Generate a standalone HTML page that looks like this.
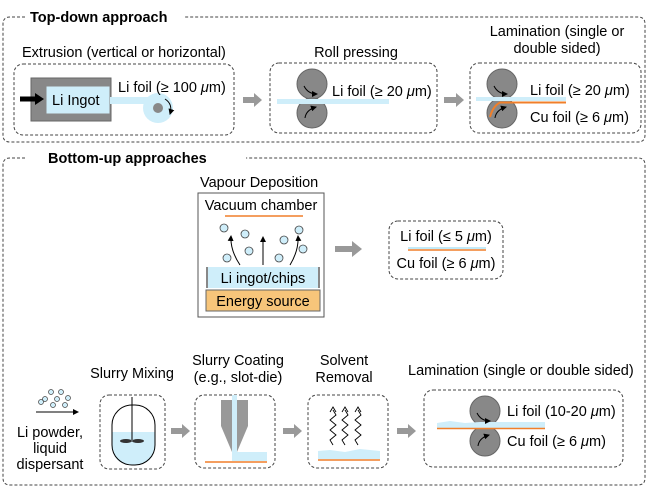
<!DOCTYPE html>
<html><head><meta charset="utf-8"><style>
html,body{margin:0;padding:0;background:#fff;}
svg{display:block;font-family:"Liberation Sans",Arial,sans-serif;}
</style></head><body>
<svg width="652" height="494" viewBox="0 0 652 494" xmlns="http://www.w3.org/2000/svg">
<defs>
<marker id="ah" markerWidth="6" markerHeight="6" refX="5" refY="3" orient="auto" markerUnits="userSpaceOnUse"><path d="M0,0 L6,3 L0,6 z" fill="#000"/></marker>
</defs>
<g fill="none" stroke="#444" stroke-width="1" stroke-dasharray="3,2">
<path d="M25,17 H10 Q3,17 3,24 V135 Q3,142 10,142 H638 Q645,142 645,135 V24 Q645,17 638,17 H185"/>
<path d="M25,158 H10 Q3,158 3,165 V478 Q3,485 10,485 H638 Q645,485 645,478 V165 Q645,158 638,158 H246"/>
<rect x="14" y="64" width="220" height="71" rx="9"/>
<rect x="270" y="63" width="167" height="70" rx="9"/>
<rect x="470" y="63" width="171" height="70" rx="9"/>
<rect x="389" y="221" width="114" height="58" rx="9"/>
<rect x="100" y="395" width="65" height="74" rx="9"/>
<rect x="195" y="395" width="80" height="73" rx="9"/>
<rect x="308" y="395" width="80" height="73" rx="9"/>
<rect x="424" y="390" width="199" height="77" rx="9"/>
</g>
<g font-size="14.5" fill="#000">
<text x="30" y="22" font-weight="bold">Top-down approach</text>
<text x="48" y="163" font-weight="bold">Bottom-up approaches</text>
<text x="22" y="57">Extrusion (vertical or horizontal)</text>
<text x="356" y="57" text-anchor="middle">Roll pressing</text>
<text x="557" y="36" text-anchor="middle">Lamination (single or</text>
<text x="557" y="53" text-anchor="middle">double sided)</text>
<text x="200" y="187">Vapour Deposition</text>
<text x="132" y="378" text-anchor="middle">Slurry Mixing</text>
<text x="238" y="365" text-anchor="middle">Slurry Coating</text>
<text x="238" y="382" text-anchor="middle">(e.g., slot-die)</text>
<text x="344" y="365" text-anchor="middle">Solvent</text>
<text x="344" y="382" text-anchor="middle">Removal</text>
<text x="408" y="375">Lamination (single or double sided)</text>
</g>
<!-- Extrusion -->
<rect x="31" y="78" width="80" height="43" fill="#888" stroke="#666"/>
<rect x="46" y="86" width="64" height="28" fill="#cfeefa" stroke="#888"/>
<circle cx="158" cy="108" r="15" fill="#cfeefa"/>
<rect x="110" y="97" width="50" height="7" fill="#cfeefa"/>
<circle cx="158" cy="108" r="5" fill="#888"/>
<path d="M165,99 Q173,104 170,114" fill="none" stroke="#000" stroke-width="1" marker-end="url(#ah)"/>
<path d="M20,99 H36" stroke="#000" stroke-width="5"/><path d="M35,93 L44,99 L35,105z" fill="#000"/>
<text x="52" y="105" font-size="14.5">Li Ingot</text>
<text x="118" y="92" font-size="14.5">Li foil (≥ 100 <tspan font-style="italic">μ</tspan>m)</text>
<!-- gray arrows -->
<g fill="#999"><path d="M243,97 H254 V93 L262,100 L254,107 V103 H243z"/>
<path d="M444,97 H456 V93 L464,100 L456,107 V103 H444z"/>
<path d="M335,246 H352 V241 L362,249 L352,257 V252 H335z"/>
<path d="M171,428 H182 V424 L190,431 L182,438 V434 H171z"/>
<path d="M283,428 H294 V424 L302,431 L294,438 V434 H283z"/>
<path d="M397,428 H408 V424 L416,431 L408,438 V434 H397z"/></g>
<!-- Roll pressing -->
<circle cx="312" cy="84" r="15" fill="#888" stroke="#666"/>
<circle cx="312" cy="113" r="15" fill="#888" stroke="#666"/>
<rect x="277" y="99" width="112" height="5" fill="#cfeefa"/>
<path d="M304,86 Q308,94 317,94" fill="none" stroke="#000" marker-end="url(#ah)"/>
<path d="M305,118 Q306,110 316,107" fill="none" stroke="#000" marker-end="url(#ah)"/>
<text x="332" y="96" font-size="14.5">Li foil (≥ 20 <tspan font-style="italic">μ</tspan>m)</text>
<!-- Lamination top -->
<circle cx="502" cy="84" r="15" fill="#888" stroke="#666"/>
<circle cx="502" cy="113" r="15" fill="#888" stroke="#666"/>
<rect x="476" y="97" width="90" height="4" fill="#cfeefa"/>
<path d="M566,102.5 H500 Q493,106 490,117" fill="none" stroke="#f07f2a" stroke-width="2"/>
<path d="M494,86 Q498,94 507,94" fill="none" stroke="#000" marker-end="url(#ah)"/>
<path d="M495,118 Q496,110 506,107" fill="none" stroke="#000" marker-end="url(#ah)"/>
<text x="530" y="95" font-size="14.5">Li foil (≥ 20 <tspan font-style="italic">μ</tspan>m)</text>
<text x="530" y="122" font-size="14.5">Cu foil (≥ 6 <tspan font-style="italic">μ</tspan>m)</text>
<!-- Vapour -->
<rect x="198" y="193" width="126" height="124" fill="none" stroke="#555"/>
<text x="261" y="210" text-anchor="middle" font-size="14.5">Vacuum chamber</text>
<line x1="225" y1="216" x2="303" y2="216" stroke="#f07f2a" stroke-width="1.5"/>
<g fill="#cfeefa" stroke="#444" stroke-width="0.8">
<circle cx="224" cy="228" r="4"/><circle cx="245" cy="234" r="4"/><circle cx="249" cy="251" r="4"/><circle cx="227" cy="258" r="4"/>
<circle cx="284" cy="240" r="4"/><circle cx="299" cy="230" r="4"/><circle cx="303" cy="249" r="4"/><circle cx="279" cy="258" r="4"/></g>
<g fill="none" stroke="#000"><path d="M240,265 Q230,250 231,236" marker-end="url(#ah)"/><path d="M263,265 V237" marker-end="url(#ah)"/><path d="M290,265 Q299,250 298,236" marker-end="url(#ah)"/></g>
<rect x="206" y="267" width="114" height="21" fill="#cfeefa"/>
<rect x="206" y="267" width="2" height="21" fill="#888"/><rect x="318" y="267" width="2" height="21" fill="#888"/>
<text x="263" y="283" text-anchor="middle" font-size="14.5">Li ingot/chips</text>
<rect x="206" y="290" width="114" height="21" fill="#f7c57a" stroke="#666"/>
<text x="263" y="306" text-anchor="middle" font-size="14.5">Energy source</text>
<text x="446" y="241" text-anchor="middle" font-size="14.5">Li foil (≤ 5 <tspan font-style="italic">μ</tspan>m)</text>
<line x1="408" y1="248" x2="486" y2="248" stroke="#aee3f5" stroke-width="1.5"/>
<line x1="408" y1="250" x2="486" y2="250" stroke="#f07f2a" stroke-width="1.5"/>
<text x="446" y="268" text-anchor="middle" font-size="14.5">Cu foil (≥ 6 <tspan font-style="italic">μ</tspan>m)</text>
<!-- Bottom row -->
<g fill="#cfeefa" stroke="#444" stroke-width="0.7">
<circle cx="51" cy="392" r="2.5"/><circle cx="61" cy="392" r="2.5"/><circle cx="45" cy="399" r="2.5"/><circle cx="57" cy="399" r="2.5"/><circle cx="68" cy="398" r="2.5"/><circle cx="53" cy="405" r="2.5"/><circle cx="65" cy="405" r="2.5"/><circle cx="41" cy="402" r="2.5"/></g>
<line x1="36" y1="412" x2="78" y2="412" stroke="#000" marker-end="url(#ah)"/>
<g font-size="14.5" text-anchor="middle"><text x="50" y="437">Li powder,</text><text x="50" y="453">liquid</text><text x="50" y="469">dispersant</text></g>
<path d="M112,432 V444 Q112,465 133,465 Q155,465 155,444 V432z" fill="#cfeefa"/>
<rect x="112" y="405" width="43" height="60" rx="20" fill="none" stroke="#000"/>
<line x1="132" y1="397" x2="132" y2="440" stroke="#000"/>
<ellipse cx="126" cy="441" rx="6" ry="2" fill="#333"/><ellipse cx="138" cy="441" rx="6" ry="2" fill="#333"/>
<path d="M221,400 H248 V426 L237,452 H232 L221,426z" fill="#999"/>
<rect x="232" y="395" width="5" height="58" fill="#cfeefa"/>
<rect x="232" y="452" width="35" height="9" fill="#cfeefa"/>
<line x1="205" y1="462" x2="267" y2="462" stroke="#f07f2a" stroke-width="1.5"/>
<g fill="none" stroke="#000" stroke-width="0.9">
<path d="M333,445 l-3,-5 l6,-5 l-6,-5 l6,-5 l-6,-5 l6,-5 l-3,-5" /><path d="M330,412 l3,-5 l3,5"/>
<path d="M345,445 l-3,-5 l6,-5 l-6,-5 l6,-5 l-6,-5 l6,-5 l-3,-5" /><path d="M342,412 l3,-5 l3,5"/>
<path d="M358,445 l-3,-5 l6,-5 l-6,-5 l6,-5 l-6,-5 l6,-5 l-3,-5" /><path d="M355,412 l3,-5 l3,5"/></g>
<path d="M318,459 V451 L330,450 L345,452 L360,449 L380,451 V459z" fill="#cfeefa"/>
<line x1="318" y1="460" x2="380" y2="460" stroke="#f07f2a" stroke-width="1.5"/>
<circle cx="485" cy="411" r="15" fill="#888" stroke="#666"/>
<circle cx="485" cy="441" r="15" fill="#888" stroke="#666"/>
<path d="M437,428 V423 L450,421 L465,423 L480,422 H545 V428z" fill="#cfeefa"/>
<line x1="437" y1="428.5" x2="545" y2="428.5" stroke="#f07f2a" stroke-width="1.5"/>
<path d="M477,413 Q481,421 490,421" fill="none" stroke="#000" marker-end="url(#ah)"/>
<path d="M478,446 Q479,438 489,435" fill="none" stroke="#000" marker-end="url(#ah)"/>
<text x="507" y="416" font-size="14.5">Li foil (10-20 <tspan font-style="italic">μ</tspan>m)</text>
<text x="507" y="446" font-size="14.5">Cu foil (≥ 6 <tspan font-style="italic">μ</tspan>m)</text>
</svg>
</body></html>
